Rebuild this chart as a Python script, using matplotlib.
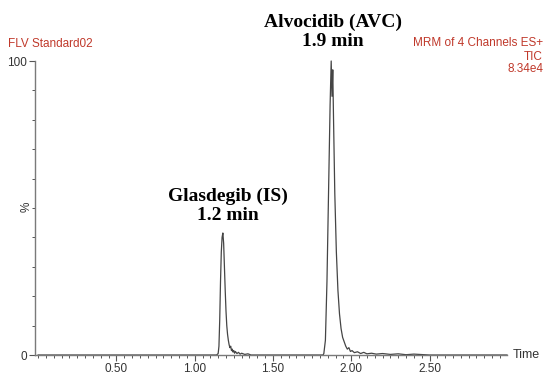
import matplotlib
matplotlib.use("Agg")
import matplotlib.pyplot as plt
from matplotlib.ticker import MultipleLocator, FixedLocator

# chromatogram (time in min, relative intensity %)
time = [0.00, 1.14, 1.150, 1.155, 1.160, 1.165, 1.170, 1.175, 1.180, 1.185,
        1.190, 1.195, 1.200, 1.205, 1.210, 1.215, 1.220, 1.225, 1.230, 1.235,
        1.240, 1.245, 1.250, 1.255, 1.260, 1.270, 1.280, 1.290, 1.300, 1.320,
        1.340, 1.360, 1.820, 1.825, 1.835, 1.845, 1.855, 1.865, 1.872, 1.877,
        1.882, 1.887, 1.895, 1.905, 1.915, 1.925, 1.935, 1.945, 1.955, 1.965,
        1.975, 1.985, 1.995, 2.005, 2.020, 2.040, 2.060, 2.080, 2.100, 2.130,
        2.160, 2.200, 2.250, 2.300, 2.350, 2.400, 2.500, 2.995]
intensity = [0, 0, 0.5, 3, 12, 25, 35, 40, 41.5, 38,
             30, 22, 15, 10, 7, 5, 3.5, 2.5, 3, 1.5,
             2, 1, 1.5, 0.6, 1.2, 0.5, 0.9, 0.3, 0.6, 0.2,
             0.4, 0, 0, 0.5, 5, 25, 55, 85, 100, 88,
             97, 80, 55, 35, 22, 14, 9, 6, 4.5, 3,
             2, 2.5, 1.2, 1.5, 0.8, 1.1, 0.5, 0.9, 0.4, 0.6,
             0.3, 0.5, 0.2, 0.4, 0.1, 0.3, 0, 0]

x_ticks = [0.5, 1.0, 1.5, 2.0, 2.5]
x_labels = ["0.50", "1.00", "1.50", "2.00", "2.50"]

peak_labels = ["Glasdegib (IS)\n1.2 min", "Alvocidib (AVC)\n1.9 min"]

W, H = 550, 376
fig = plt.figure(figsize=(W / 100, H / 100), dpi=100)
ax = fig.add_axes([35 / W, 1 - 355 / H, (507 - 35) / W, (355 - 61) / H])

ax.plot(time, intensity, color="#454545", lw=0.9, clip_on=False)

ax.set_xlim(-0.02, 2.995)
ax.set_ylim(0, 100)

for s in ["top", "right"]:
    ax.spines[s].set_visible(False)
for s in ["left", "bottom"]:
    ax.spines[s].set_color("#7a7a7a")
    ax.spines[s].set_linewidth(1.0)

ax.xaxis.set_major_locator(FixedLocator(x_ticks))
ax.set_xticklabels(x_labels)
ax.xaxis.set_minor_locator(MultipleLocator(0.05))
ax.yaxis.set_major_locator(FixedLocator([0, 100]))
ax.set_yticklabels(["0", "100"])
ax.yaxis.set_minor_locator(MultipleLocator(10))

ax.tick_params(axis="both", which="major", length=4, width=0.8, color="#555555",
               labelsize=8.5, labelcolor="#333333", pad=2)
ax.tick_params(axis="both", which="minor", length=2.5, width=0.7, color="#555555")
for lbl in ax.get_xticklabels() + ax.get_yticklabels():
    lbl.set_family("Liberation Sans")

red = "#c0392b"
fs = 8.5
fig.text(8 / W, 1 - 44 / H, "FLV Standard02", color=red, fontsize=fs,
         family="Liberation Sans", ha="left", va="center")
fig.text(543 / W, 1 - 43 / H, "MRM of 4 Channels ES+", color=red, fontsize=fs,
         family="Liberation Sans", ha="right", va="center")
fig.text(543 / W, 1 - 57 / H, "TIC", color=red, fontsize=fs,
         family="Liberation Sans", ha="right", va="center")
fig.text(543 / W, 1 - 69 / H, "8.34e4", color=red, fontsize=fs,
         family="Liberation Sans", ha="right", va="center")
fig.text(27 / W, 1 - 207 / H, "%", color="#333333", fontsize=fs,
         family="Liberation Sans", rotation=90, ha="center", va="center")
fig.text(513 / W, 1 - 355 / H, "Time", color="#333333", fontsize=9,
         family="Liberation Sans", ha="left", va="center")

fig.text(228 / W, 1 - 206 / H, peak_labels[0], fontsize=14, fontweight="bold",
         family="Liberation Serif", ha="center", va="center", linespacing=1.2)
fig.text(333 / W, 1 - 32 / H, peak_labels[1], fontsize=14, fontweight="bold",
         family="Liberation Serif", ha="center", va="center", linespacing=1.2)

fig.savefig("out.png", dpi=100)
